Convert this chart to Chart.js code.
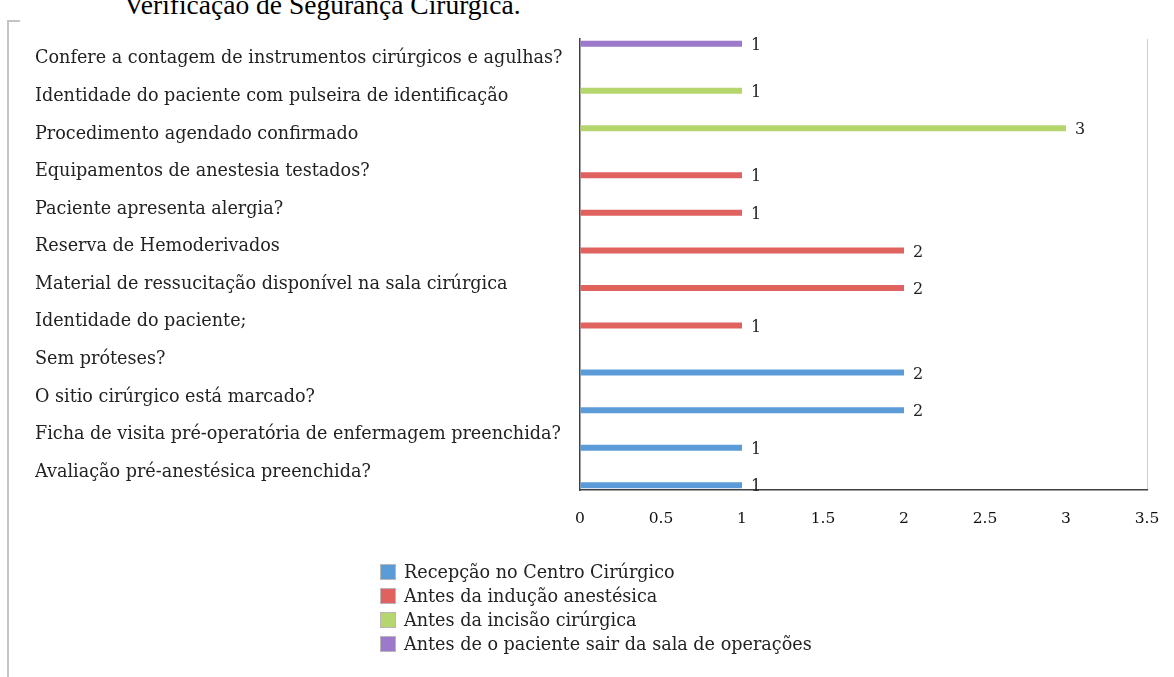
<!DOCTYPE html>
<html>
<head>
<meta charset="utf-8">
<script src="https://cdn.jsdelivr.net/npm/chart.js@4.4.1/dist/chart.umd.min.js"></script>
<style>
  body { margin: 0; background: #fff; width: 1174px; height: 677px; overflow: hidden; position: relative; }
  #title { position: absolute; left: 124px; top: -9px; font: 27.5px/27px "Liberation Serif", serif; color: #000; white-space: nowrap; }
  #frameV { position: absolute; left: 7px; top: 20px; width: 2px; height: 657px; background: #c4c4c4; }
  #frameH { position: absolute; left: 7px; top: 20px; width: 13px; height: 2px; background: #c4c4c4; }
  #chart { position: absolute; left: 0; top: 0; }
  #legend { position: absolute; left: 380px; top: 560px; font: 17.6px "DejaVu Serif", serif; color: #222; }
  #legend div { height: 24px; line-height: 24px; white-space: nowrap; }
  #legend span { display: inline-block; width: 16px; height: 16px; margin-right: 8px; vertical-align: -2px; border: 1px solid #b8b8b8; box-sizing: border-box; }
</style>
</head>
<body>
<div id="title">Verificação de Segurança Cirúrgica.</div>
<div id="frameV"></div>
<div id="frameH"></div>
<canvas id="chart" width="1174" height="677"></canvas>
<div id="legend"></div>
<script>
// categories from top to bottom
const categories = [
  'Confere a contagem de instrumentos cirúrgicos e agulhas?',
  'Identidade do paciente com pulseira de identificação',
  'Procedimento agendado confirmado',
  'Equipamentos de anestesia testados?',
  'Paciente apresenta alergia?',
  'Reserva de Hemoderivados',
  'Material de ressucitação disponível na sala cirúrgica',
  'Identidade do paciente;',
  'Sem próteses?',
  'O sitio cirúrgico está marcado?',
  'Ficha de visita pré-operatória de enfermagem preenchida?',
  'Avaliação pré-anestésica preenchida?'
];

const recepcao = [null, null, null, null, null, null, null, null, 2, 2, 1, 1];
const inducao  = [null, null, null, 1, 1, 2, 2, 1, null, null, null, null];
const incisao  = [null, 1, 3, null, null, null, null, null, null, null, null, null];
const saida    = [1, null, null, null, null, null, null, null, null, null, null, null];

const xTicks = [0, 0.5, 1, 1.5, 2, 2.5, 3, 3.5];

const seriesNames = [
  'Recepção no Centro Cirúrgico',
  'Antes da indução anestésica',
  'Antes da incisão cirúrgica',
  'Antes de o paciente sair da sala de operações'
];
const seriesColors = ['#5b9bd8', '#e0625f', '#b5d66c', '#9c7ac9'];

// legend (same order as the original)
const legendEl = document.getElementById('legend');
seriesNames.forEach((name, i) => {
  const row = document.createElement('div');
  row.innerHTML = '<span style="background:' + seriesColors[i] + '"></span>' + name;
  legendEl.appendChild(row);
});

// value labels next to the bars
const valueLabels = {
  id: 'valueLabels',
  afterDatasetsDraw(chart) {
    const ctx = chart.ctx;
    ctx.save();
    ctx.font = '16px "DejaVu Serif", serif';
    ctx.fillStyle = '#222';
    ctx.textBaseline = 'middle';
    chart.data.datasets.forEach((ds, di) => {
      const meta = chart.getDatasetMeta(di);
      meta.data.forEach((bar, i) => {
        if (ds.data[i] == null) return;
        ctx.fillText(String(ds.data[i]), bar.x + 9, bar.y + 2);
      });
    });
    ctx.restore();
  }
};

const serifFont = { family: '"DejaVu Serif", serif' };

// top slot in each category is the last series, so the datasets go in reverse
const seriesData = [recepcao, inducao, incisao, saida];
const datasets = [3, 2, 1, 0].map(i => ({
  label: seriesNames[i],
  data: seriesData[i],
  backgroundColor: seriesColors[i],
  categoryPercentage: 1,
  barPercentage: 0.64
}));

new Chart(document.getElementById('chart'), {
  type: 'bar',
  data: { labels: categories, datasets: datasets },
  options: {
    indexAxis: 'y',
    responsive: false,
    animation: false,
    layout: { padding: { left: 35, top: 39, right: 27, bottom: 137 } },
    plugins: { legend: { display: false }, tooltip: { enabled: false } },
    scales: {
      y: {
        grid: { display: false },
        border: { color: '#404040', width: 1.5 },
        ticks: {
          crossAlign: 'far',
          color: '#222',
          labelOffset: 1,
          font: { ...serifFont, size: 17.6 }
        },
        afterFit(axis) { axis.width = 545; }
      },
      x: {
        min: 0,
        max: 3.5,
        afterBuildTicks(axis) { axis.ticks = xTicks.map(v => ({ value: v })); },
        grid: {
          drawTicks: false,
          color: c => (c.tick && c.tick.value === 3.5 ? '#cfcfcf' : 'rgba(0,0,0,0)')
        },
        border: { color: '#404040', width: 1.5 },
        ticks: {
          padding: 20,
          color: '#111',
          font: { ...serifFont, size: 15.5 },
          callback: v => String(v)
        },
        afterFit(axis) {
          axis.height = 50;
          axis.paddingLeft = 0;
          axis.paddingRight = 0;
        }
      }
    }
  },
  plugins: [valueLabels]
});
</script>
</body>
</html>
